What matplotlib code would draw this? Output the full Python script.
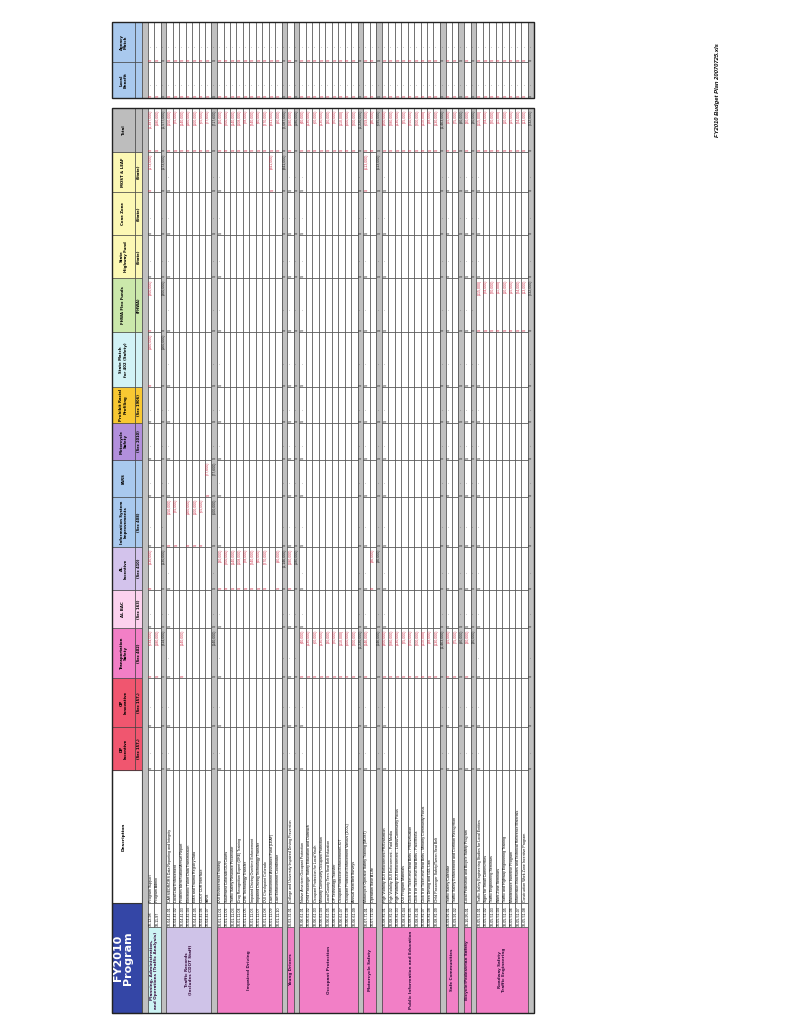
import matplotlib
matplotlib.use("Agg")
import matplotlib.pyplot as plt
from matplotlib.patches import Rectangle

# ---- sections of the budget plan (program, colour, codes, descriptions) ----
sections = [
    ("Planning, Administration,\nand Operations (Traffic Analysis)", "#ccf4f4",
     ["10-12-98", "10-11-97"],
     ["Program Support", "Program Admin"]),
    ("Traffic Records\n(Includes CDOT Staff)", "#cfc3e8",
     ["10-04-41-01", "10-04-41-02", "10-04-41-03", "10-04-41-04", "10-04-41-05", "10-04-41-06", "10-04-41-07"],
     ["CARS/EDR/DRS Data Reporting and Integrity", "Local Law Enforcement",
      "Problem Identification/Annual Report", "Electronic Ticket Data Transmission",
      "EMS and Trauma Registry Data", "CDOT CDR Interface", "FARS"]),
    ("Impaired Driving", "#f27fc6",
     ["10-01-11-01", "10-01-11-02", "10-01-11-03", "10-01-11-04", "10-01-11-05",
      "10-01-11-06", "10-01-11-07", "10-01-11-08", "10-01-11-09", "10-01-11-10"],
     ["DUI Enforcement Training", "Southwest Colorado DUI Courts",
      "Traffic Safety Resource Prosecutor", "Drug Recognition Expert (DRE) Training",
      "DRE Technology Transfer", "Impaired Driving Overtime Enforcement",
      "Impaired Driving Technology Transfer", "DUI Checkpoint Colorado",
      "Law Enforcement Assistance Fund (LEAF)", "Law Enforcement Coordinator"]),
    ("Young Drivers", "#f27fc6",
     ["10-03-31-01"],
     ["College and University Impaired Driving Prevention"]),
    ("Occupant Protection", "#f27fc6",
     ["10-06-61-01", "10-06-61-02", "10-06-61-03", "10-06-61-04", "10-06-61-05",
      "10-06-61-06", "10-06-61-07", "10-06-61-08", "10-06-61-09"],
     ["Native American Occupant Protection", "Child Passenger Safety Education and Outreach",
      "Occupant Protection for Local Youth", "Minority Community Occupant Protection",
      "Local County Teen Seat Belt Education", "OP Technology Transfer",
      "Occupant Protection Enforcement/CIOT", "Occupant Protection Enforcement Various (100+)",
      "Annual Seat Belt Surveys"]),
    ("Motorcycle Safety", "#f27fc6",
     ["10-07-71-01", "10-07-71-02"],
     ["Motorcycle Operator Safety Training (MOST)", "Operation Save A Life"]),
    ("Public Information and Education", "#f27fc6",
     ["10-08-81-01", "10-08-81-02", "10-08-81-03", "10-08-81-04", "10-08-81-05",
      "10-08-81-06", "10-08-81-07", "10-08-81-08", "10-08-81-09"],
     ["High Visibility DUI Enforcement PR/Evaluation", "High Visibility DUI Enforcement - Paid Media",
      "High Visibility DUI Enforcement - Latino/Community Focus", "DUI Program Materials",
      "Click It or Ticket and Seat Belts - PR/Evaluation", "Click It or Ticket and Seat Belts - Paid Media",
      "Click It or Ticket and Seat Belts - Minority Community Focus", "Teen Driving and GDL Law",
      "Child Passenger Safety/Tween Seat Belt"]),
    ("Safe Communities", "#f27fc6",
     ["10-09-91-01", "10-09-91-02"],
     ["Traffic Safety Calendar", "Traffic Safety Enforcement and Coalition Recognition"]),
    ("Bicycle/Pedestrian Safety", "#f27fc6",
     ["10-10-95-01"],
     ["Local Pedestrian and Bicycle Safety Program"]),
    ("Roadway Safety\nTraffic Engineering", "#f27fc6",
     ["10-05-51-01", "10-05-51-02", "10-05-51-03", "10-05-51-04", "10-05-51-05",
      "10-05-51-06", "10-05-51-07", "10-05-51-08"],
     ["Traffic Safety Engineering Studies for Local Entities", "Signs for Small Communities",
      "Traffic Engineering Seminars", "Work Zone Seminars", "Traffic and Highway Engineering Training",
      "Maintenance Incentive Program", "Information Brochures and Technical Reference Materials",
      "Construction Work Zone Incentive Program"]),
]

# ---- funding columns: header, sub header, colour ----
fund_names = ["DP\nIncentive", "OP\nInnovative", "Transportation\nSafety", "AL BAC", "AL\nIncentive",
              "Information System\nImprovements", "FARS", "Motorcycle\nSafety", "Prohibit Racial\nProfiling",
              "State Match\nfor 402 (Safety)", "FHWA Flex Funds", "State\nHighway Fund", "Cone Zone",
              "MOST & LEAF", "Total"]
fund_subs = ["(Sec 157,)", "(Sec 157,)", "(Sec 402)", "(Sec 163)", "(Sec 410)", "(Sec 408)", "",
             "(Sec 2010)", "(Sec 1906)", "", "(FHWA)", "(State)", "(State)", "(State)", ""]
fund_colors = ["#f0566f", "#f0566f", "#f27fc6", "#fcd2ee", "#d3c3ec", "#a9c9ee", "#a9c9ee", "#b28fdc",
               "#f8c832", "#d2f2f6", "#cbe8ab", "#fcf8b4", "#fcf8b4", "#fcf8b4", "#bdbdbd"]
match_names = ["Local\nBenefit", "Agency\nMatch"]

# ---- amounts per section (column -> list per row), read from the sheet ----
amounts = {
    0: {2: [634000, 180000], 4: [130000, None], 9: [160000, None], 10: [300000, None], 13: [173000, None]},
    1: {2: [None, None, 140000, None, None, None, None],
        5: [150000, 25000, None, 160000, 100000, 65000, None],
        6: [None, None, None, None, None, None, 77600]},
    2: {4: [30000, 200000, 140000, 108000, 28000, 240000, 40000, 270000, None, 90000],
        13: [None, None, None, None, None, None, None, None, 941000, None]},
    3: {4: [180000]},
    4: {2: [40000, 130000, 60000, 130000, 30000, 20000, 110000, 500000, 200000]},
    5: {2: [146000, None], 4: [None, 36000], 13: [513000, None]},
    6: {2: [300000, 280000, 130000, 25000, 250000, 200000, 110000, 38000, 130000]},
    7: {2: [15000, 75000]},
    8: {2: [30000]},
    9: {10: [115000, 24000, 20000, 11000, 10000, 15000, 24000, 13000]},
}

fig = plt.figure(figsize=(8.0, 10.35), dpi=100)
ax = fig.add_axes([0, 0, 1, 1])
ax.set_xlim(0, 800)
ax.set_ylim(1035, 0)
ax.axis("off")

TXT = dict(rotation=90, fontsize=2.6, family="Liberation Sans")
RED = "#d0304a"

# column bands along y (the sheet is printed rotated)
col_edges = [770, 727, 678, 628, 590, 547, 497, 460, 423, 387, 332, 278, 235, 192, 152, 108]
match_edges = [98, 62, 22]
y_desc = (770, 903)
y_code = (903, 927)
y_prog = (927, 1013)
x_head, x_sub, x_gray = 112, 135, 142
row_h, gap_h = 6.45, 5.7


def rect(x0, x1, y0, y1, fc, lw=0.4):
    ax.add_patch(Rectangle((x0, y0), x1 - x0, y1 - y0, fc=fc, ec="#333333", lw=lw))


def money(x, y_top, y_bot, v, sub=False):
    ax.text(x, y_bot - 1, "$", ha="center", va="bottom", color="#333333" if sub else RED, **TXT)
    if v is None or v == 0:
        ax.text(x, (y_top + y_bot) / 2 + 4, "-", ha="center", va="center", color="#333333", **TXT)
    else:
        ax.text(x, y_top + 2, f"({v:,.0f})", ha="center", va="top",
                color="#222222" if sub else RED, **TXT)


def subtotal(xs, si):
    rect(xs, xs + gap_h, col_edges[-1], y_prog[1], "#c0c0c0")
    rect(xs, xs + gap_h, match_edges[-1], match_edges[0], "#c0c0c0")
    xc = xs + gap_h / 2
    if si is None:
        return
    for j in range(len(fund_names)):
        vals = amounts[si].get(j)
        tot = sum(v for v in vals if v) if vals else None
        if j == 14:
            tot = sum(sum(v for v in vv if v) for vv in amounts[si].values())
        money(xc, col_edges[j + 1], col_edges[j], tot, sub=True)
    for j in range(2):
        money(xc, match_edges[j + 1], match_edges[j], None, sub=True)


# headers
rect(x_head, x_gray, y_prog[0] - 24, y_prog[1], "#3446a6", 0.8)
ax.text((x_head + x_sub) / 2, (y_code[0] + y_prog[1]) / 2, "FY2010\nProgram", color="white",
        ha="center", va="center", rotation=90, fontsize=8, fontweight="bold", linespacing=1.0)
rect(x_head, x_gray, y_desc[0], y_desc[1], "white", 0.8)
ax.text((x_head + x_sub) / 2, sum(y_desc) / 2, "Description", ha="center", va="center",
        rotation=90, fontsize=3.2, fontweight="bold")
for j in range(len(fund_names)):
    yb, yt = col_edges[j], col_edges[j + 1]
    rect(x_head, x_sub, yt, yb, fund_colors[j])
    rect(x_sub, x_gray, yt, yb, fund_colors[j])
    ax.text((x_head + x_sub) / 2, (yt + yb) / 2, fund_names[j], ha="center", va="center",
            rotation=90, fontsize=2.8, fontweight="bold", linespacing=1.0)
    ax.text((x_sub + x_gray) / 2, (yt + yb) / 2, fund_subs[j], ha="center", va="center",
            rotation=90, fontsize=2.6, fontweight="bold")
for j in range(2):
    yb, yt = match_edges[j], match_edges[j + 1]
    rect(x_head, x_sub, yt, yb, "#a9c9ee")
    rect(x_sub, x_gray, yt, yb, "#a9c9ee")
    ax.text((x_head + x_sub) / 2, (yt + yb) / 2, match_names[j], ha="center", va="center",
            rotation=90, fontsize=2.8, fontweight="bold", linespacing=1.0)

# body
x = x_gray
for si, (prog, pcol, codes, descs) in enumerate(sections):
    subtotal(x, si - 1 if si > 0 else None)
    x += gap_h
    n = len(codes)
    x0 = x
    rect(x0, x0 + n * row_h, y_prog[0], y_prog[1], pcol)
    ax.text(x0 + n * row_h / 2, sum(y_prog) / 2, prog, ha="center", va="center",
            rotation=90, fontsize=3.0, fontweight="bold", color="#3a1040", linespacing=1.1)
    for r in range(n):
        xr = x0 + r * row_h
        xc = xr + row_h / 2
        rect(xr, xr + row_h, y_code[0], y_code[1], "white")
        rect(xr, xr + row_h, y_desc[0], y_desc[1], "white")
        ax.text(xc, y_code[1] - 1, codes[r], ha="center", va="bottom", **TXT)
        ax.text(xc, y_desc[1] - 1.5, descs[r], ha="center", va="bottom", **TXT)
        total = 0
        for j in range(len(fund_names)):
            rect(xr, xr + row_h, col_edges[j + 1], col_edges[j], "white")
            vals = amounts[si].get(j)
            v = vals[r] if vals else None
            if j == 14:
                money(xc, col_edges[j + 1], col_edges[j], total)
            elif v:
                total += v
                money(xc, col_edges[j + 1], col_edges[j], v)
            elif r == 0:
                money(xc, col_edges[j + 1], col_edges[j], None, sub=True)
        for j in range(2):
            rect(xr, xr + row_h, match_edges[j + 1], match_edges[j], "white")
            money(xc, match_edges[j + 1], match_edges[j], None)
    x += n * row_h

subtotal(x, len(sections) - 1)

# outer frames
ax.add_patch(Rectangle((x_head, col_edges[-1]), x + gap_h - x_head, y_prog[1] - col_edges[-1],
                       fc="none", ec="#222222", lw=1.0))
ax.add_patch(Rectangle((x_head, match_edges[-1]), x + gap_h - x_head, match_edges[0] - match_edges[-1],
                       fc="none", ec="#222222", lw=1.0))

ax.text(717, 90, "FY2010 Budget Plan 20070725.xls", rotation=90, ha="center", va="center",
        fontsize=4.2, fontweight="bold", style="italic", family="Liberation Sans")

fig.savefig("out.png", dpi=100)
